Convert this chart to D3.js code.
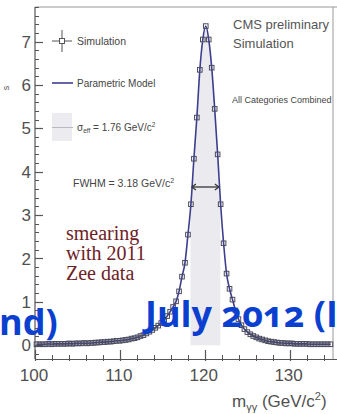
<!DOCTYPE html>
<html>
<head>
<meta charset="utf-8">
<script src="https://cdn.jsdelivr.net/npm/d3@7/dist/d3.min.js"></script>
<style>
  html, body { margin: 0; padding: 0; background: #fff; overflow: hidden; }
  svg { display: block; }
</style>
</head>
<body>
<svg id="chart" width="337" height="414"></svg>
<script>
// Diphoton invariant mass, simulated signal (all categories combined)
const massMin = 100, massMax = 135, binWidth = 0.35;

// Simulated events per 0.35 GeV bin, bins from 100 to 135 GeV
const simValues = [
  0.02, 0.02, 0.02, 0.02, 0.03, 0.02, 0.03, 0.03, 0.03, 0.03,
  0.03, 0.04, 0.03, 0.04, 0.04, 0.04, 0.05, 0.04, 0.05, 0.05,
  0.06, 0.06, 0.07, 0.07, 0.08, 0.08, 0.09, 0.10, 0.10, 0.11,
  0.12, 0.13, 0.15, 0.16, 0.18, 0.21, 0.23, 0.27, 0.31, 0.35,
  0.40, 0.45, 0.51, 0.58, 0.67, 0.77, 0.88, 1.01, 1.24, 1.58,
  1.90, 2.55, 3.25, 4.30, 5.25, 6.35, 7.05, 7.36, 7.05, 6.40,
  5.45, 4.40, 3.25, 2.35, 1.65, 1.30, 1.05, 0.80, 0.60, 0.46,
  0.37, 0.30, 0.25, 0.21, 0.18, 0.15, 0.13, 0.11, 0.09, 0.08,
  0.07, 0.06, 0.05, 0.05, 0.04, 0.04, 0.04, 0.03, 0.03, 0.03,
  0.03, 0.03, 0.02, 0.02, 0.02, 0.02, 0.02, 0.02, 0.02, 0.02
];

// Parametric model evaluated at the bin centres
const modelValues = simValues.slice();

const xMajorTicks = [100, 110, 120, 130];
const yMajorTicks = [0, 1, 2, 3, 4, 5, 6, 7];
const peakMass = 120.08;
const sigmaEff = 1.76;   // GeV/c^2
const fwhm = 3.18;       // GeV/c^2

const legendItems = ["Simulation", "Parametric Model", "\u03c3eff = 1.76 GeV/c\u00b2"];
const smearingNote = ["smearing", "with 2011", "Zee data"];

const svg = d3.select("#chart");
const W = 337, H = 414;
const plot = { left: 35, right: 332, top: 7, bottom: 359 };

const x = d3.scaleLinear().domain([massMin, massMax]).range([plot.left, plot.right]);
const y = d3.scaleLinear().domain([-0.32, 7.8]).range([plot.bottom, plot.top]);

const bins = simValues.map((v, i) => ({
  m: massMin + (i + 0.5) * binWidth,
  v: v,
  model: modelValues[i]
}));

const axisColor = "#555";
const textColor = "#444";

// sigma_eff band under the model curve
const lo = peakMass - sigmaEff, hi = peakMass + sigmaEff;
function modelAt(m) {
  for (let i = 0; i < bins.length - 1; i++) {
    if (m >= bins[i].m && m <= bins[i + 1].m) {
      const t = (m - bins[i].m) / (bins[i + 1].m - bins[i].m);
      return bins[i].model + t * (bins[i + 1].model - bins[i].model);
    }
  }
  return 0;
}
const bandPts = [{ m: lo, v: modelAt(lo) }]
  .concat(bins.filter(b => b.m > lo && b.m < hi).map(b => ({ m: b.m, v: b.model })))
  .concat([{ m: hi, v: modelAt(hi) }]);
svg.append("path")
  .datum(bandPts)
  .attr("fill", "#ebebef")
  .attr("d", d3.area().x(d => x(d.m)).y0(y(0)).y1(d => y(d.v)));

// Frame
svg.append("line").attr("x1", plot.left).attr("x2", W).attr("y1", plot.top).attr("y2", plot.top)
  .attr("stroke", "#999").attr("stroke-width", 1);
svg.append("line").attr("x1", plot.right + 1).attr("x2", plot.right + 1).attr("y1", plot.top).attr("y2", plot.bottom)
  .attr("stroke", "#999").attr("stroke-width", 1);

// Y axis
const yAxisG = svg.append("g");
yAxisG.append("line").attr("x1", plot.left).attr("x2", plot.left)
  .attr("y1", plot.top).attr("y2", plot.bottom).attr("stroke", axisColor).attr("stroke-width", 1.2);
const yMinor = d3.range(-0.2, 7.81, 0.2);
yAxisG.selectAll(".ymin").data(yMinor).join("line")
  .attr("x1", plot.left).attr("x2", plot.left + 4)
  .attr("y1", d => Math.round(y(d)) + 0.5).attr("y2", d => Math.round(y(d)) + 0.5)
  .attr("stroke", axisColor).attr("stroke-width", 1);
yAxisG.selectAll(".ymaj").data(yMajorTicks).join("line")
  .attr("x1", plot.left).attr("x2", plot.left + 8)
  .attr("y1", d => Math.round(y(d)) + 0.5).attr("y2", d => Math.round(y(d)) + 0.5)
  .attr("stroke", axisColor).attr("stroke-width", 1.2);
yAxisG.selectAll(".ylab").data(yMajorTicks).join("text")
  .attr("x", plot.left - 4).attr("y", d => y(d))
  .attr("dy", "0.36em")
  .attr("text-anchor", "end")
  .attr("font-family", "Liberation Sans, Arial, sans-serif")
  .attr("font-size", 17)
  .attr("fill", "#505050")
  .text(d => d);

// X axis
const xAxisG = svg.append("g");
xAxisG.append("line").attr("x1", plot.left).attr("x2", W)
  .attr("y1", plot.bottom + 0.5).attr("y2", plot.bottom + 0.5).attr("stroke", axisColor).attr("stroke-width", 1.2);
const xMinor = d3.range(100, 135.1, 2);
xAxisG.selectAll(".xmin").data(xMinor).join("line")
  .attr("x1", d => Math.round(x(d)) + 0.5).attr("x2", d => Math.round(x(d)) + 0.5)
  .attr("y1", plot.bottom - 4).attr("y2", plot.bottom + 2)
  .attr("stroke", axisColor).attr("stroke-width", 1);
xAxisG.selectAll(".xmaj").data(xMajorTicks).join("line")
  .attr("x1", d => Math.round(x(d)) + 0.5).attr("x2", d => Math.round(x(d)) + 0.5)
  .attr("y1", plot.bottom - 9).attr("y2", plot.bottom + 2)
  .attr("stroke", axisColor).attr("stroke-width", 1.2);
xAxisG.selectAll(".xlab").data(xMajorTicks).join("text")
  .attr("x", d => x(d) - 1).attr("y", 381)
  .attr("text-anchor", "middle")
  .attr("font-family", "Liberation Sans, Arial, sans-serif")
  .attr("font-size", 17)
  .attr("fill", "#505050")
  .text(d => d);

// X axis title: m_γγ (GeV/c²)
const xt = svg.append("text")
  .attr("x", 232).attr("y", 407)
  .attr("font-family", "Liberation Sans, Arial, sans-serif")
  .attr("font-size", 17)
  .attr("fill", "#505050");
xt.append("tspan").text("m");
xt.append("tspan").attr("font-size", 11).attr("dy", 4).text("\u03b3\u03b3");
xt.append("tspan").attr("dy", -4).text(" (GeV/c");
xt.append("tspan").attr("font-size", 11).attr("dy", -7).text("2");
xt.append("tspan").attr("dy", 7).text(")");

// Fragment of the rotated y title at the left edge
svg.append("text")
  .attr("transform", "translate(9,88) rotate(-90)")
  .attr("text-anchor", "middle")
  .attr("font-family", "Liberation Sans, Arial, sans-serif")
  .attr("font-size", 9)
  .attr("fill", "#555")
  .text("s");

// Parametric model line
const lineColor = "#3d3f8e";
svg.append("path")
  .datum(bins)
  .attr("fill", "none")
  .attr("stroke", lineColor)
  .attr("stroke-width", 1.6)
  .attr("d", d3.line().x(d => x(d.m)).y(d => y(d.model)).curve(d3.curveMonotoneX));

// Simulation points (open squares)
const mk = 4.6;
svg.append("g").selectAll("rect").data(bins).join("rect")
  .attr("x", d => x(d.m) - mk / 2)
  .attr("y", d => y(d.v) - mk / 2)
  .attr("width", mk).attr("height", mk)
  .attr("fill", "none")
  .attr("stroke", "#4b4b5e")
  .attr("stroke-width", 1);

// FWHM arrow
const fLo = x(peakMass - fwhm / 2), fHi = x(peakMass + fwhm / 2);
const arrowY = 187;
svg.append("line").attr("x1", fLo).attr("x2", fHi).attr("y1", arrowY).attr("y2", arrowY)
  .attr("stroke", "#333").attr("stroke-width", 1.3);
svg.append("path").attr("d", `M${fLo + 4},${arrowY - 3} L${fLo},${arrowY} L${fLo + 4},${arrowY + 3}`)
  .attr("fill", "none").attr("stroke", "#333").attr("stroke-width", 1.2);
svg.append("path").attr("d", `M${fHi - 4},${arrowY - 3} L${fHi},${arrowY} L${fHi - 4},${arrowY + 3}`)
  .attr("fill", "none").attr("stroke", "#333").attr("stroke-width", 1.2);
svg.append("text")
  .attr("x", 73).attr("y", 187)
  .attr("font-family", "Liberation Sans, Arial, sans-serif")
  .attr("font-size", 10.5)
  .attr("fill", textColor)
  .text("FWHM = 3.18 GeV/c")
  .append("tspan").attr("font-size", 7).attr("dy", -4).text("2");

// Legend
const legX = 52, legTextX = 77;
const lg = svg.append("g");
// Simulation: marker with error cross
lg.append("line").attr("x1", legX).attr("x2", legX + 20).attr("y1", 41).attr("y2", 41).attr("stroke", "#555").attr("stroke-width", 1);
lg.append("line").attr("x1", legX + 10).attr("x2", legX + 10).attr("y1", 30).attr("y2", 52).attr("stroke", "#555").attr("stroke-width", 1);
lg.append("rect").attr("x", legX + 10 - 2.5).attr("y", 41 - 2.5).attr("width", 5).attr("height", 5)
  .attr("fill", "#fff").attr("stroke", "#555").attr("stroke-width", 1);
// Parametric model
lg.append("line").attr("x1", legX).attr("x2", legX + 21).attr("y1", 83).attr("y2", 83).attr("stroke", lineColor).attr("stroke-width", 1.6);
// sigma_eff box
lg.append("rect").attr("x", legX).attr("y", 113).attr("width", 20).attr("height", 28).attr("fill", "#ececf0");
lg.append("line").attr("x1", legX).attr("x2", legX + 21).attr("y1", 127.5).attr("y2", 127.5).attr("stroke", "#b8b8c0").attr("stroke-width", 1);

const legY = [41, 83, 127];
lg.append("text").attr("x", legTextX).attr("y", legY[0]).attr("dy", "0.35em")
  .attr("font-family", "Liberation Sans, Arial, sans-serif").attr("font-size", 10.5).attr("fill", textColor)
  .text(legendItems[0]);
lg.append("text").attr("x", legTextX).attr("y", legY[1]).attr("dy", "0.35em")
  .attr("font-family", "Liberation Sans, Arial, sans-serif").attr("font-size", 10).attr("fill", textColor)
  .text(legendItems[1]);
const sig = lg.append("text").attr("x", legTextX).attr("y", legY[2]).attr("dy", "0.35em")
  .attr("font-family", "Liberation Sans, Arial, sans-serif").attr("font-size", 10).attr("fill", textColor);
sig.append("tspan").text("\u03c3");
sig.append("tspan").attr("font-size", 6.5).attr("dy", 2.5).text("eff");
sig.append("tspan").attr("dy", -2.5).text(" = 1.76 GeV/c");
sig.append("tspan").attr("font-size", 6.5).attr("dy", -4).text("2");

// Labels top right
const lab = svg.append("g").attr("font-family", "Liberation Sans, Arial, sans-serif").attr("fill", "#555");
lab.append("text").attr("x", 233).attr("y", 29).attr("font-size", 13).text("CMS preliminary");
lab.append("text").attr("x", 233).attr("y", 48).attr("font-size", 13).text("Simulation");
lab.append("text").attr("x", 232).attr("y", 103).attr("font-size", 9).attr("fill", "#444").text("All Categories Combined");

// Smearing note
svg.append("g").selectAll("text").data(smearingNote).join("text")
  .attr("x", 66).attr("y", (d, i) => 240 + i * 20)
  .attr("font-family", "Liberation Serif, Times New Roman, serif")
  .attr("font-size", 20)
  .attr("fill", "#6e2226")
  .text(d => d);

// Slide annotations over the plot
const blue = "#0b3fcf";
svg.append("text")
  .attr("x", -1).attr("y", 335)
  .attr("font-family", "Open Sans, sans-serif").attr("font-weight", "bold")
  .attr("font-size", 36).attr("fill", blue)
  .style("font-variant-numeric", "oldstyle-nums")
  .text("nd)");
svg.append("text")
  .attr("x", 145).attr("y", 327)
  .attr("font-family", "Open Sans, sans-serif").attr("font-weight", "bold")
  .attr("font-size", 36).attr("fill", blue)
  .style("font-variant-numeric", "oldstyle-nums")
  .text("July 2012 (ICHEP)");
</script>
</body>
</html>
